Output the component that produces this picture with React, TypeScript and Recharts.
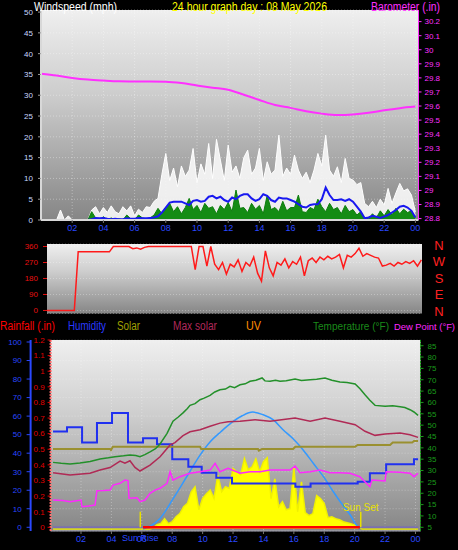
import React from 'react';
import { ComposedChart, Line, Area, XAxis, YAxis, CartesianGrid, ReferenceLine } from 'recharts';

const FONT = '"Liberation Sans", Arial, Helvetica, sans-serif';

// wind panel, 15 minute samples from 00:00 (mph)
const windGust = [
  0, 0, 0, 0, 0, 2.4, 0, 1.0, 0, 0, 0, 0, 0, 2.4, 3.2, 1.5,
  3.0, 1.8, 3.4, 2.0, 1.5, 3.2, 2.2, 3.4, 1.0, 2.6, 1.8, 3.2,
  3.0, 4.5, 5.2, 11.0, 16.0, 9.5, 12.5, 8.0, 13.0, 10.5, 12.0, 17.2,
  9.0, 13.5, 11.0, 18.4, 10.0, 19.4, 14.4, 9.5, 18.0, 11.5, 13.0, 10.0,
  15.0, 16.8, 11.0, 12.5, 17.2, 9.5, 14.0, 11.0, 12.0, 20.4, 10.5, 12.5,
  11.0, 15.6, 12.0, 10.0, 11.5, 9.0, 12.0, 16.0, 13.0, 20.4, 12.0, 10.5,
  12.8, 9.0, 14.8, 10.0, 9.6, 8.5, 9.0, 4.0, 3.2, 4.5, 3.0, 5.0,
  3.6, 7.6, 4.0, 6.5, 8.8, 7.0, 7.5, 6.0, 2.0,
];
const windSpeed = [
  0, 0, 0, 0, 0, 0, 0, 0, 0, 0, 0, 0, 0, 2.0, 0.5, 0,
  0.8, 0, 0.5, 0, 0.3, 0, 1.2, 0.3, 0, 1.2, 0.5, 0.3,
  0.5, 1.2, 2.8, 1.5, 3.0, 4.0, 2.0, 3.2, 1.5, 3.0, 5.2, 2.5,
  3.5, 1.8, 4.0, 2.8, 3.2, 1.5, 3.5, 2.5, 4.2, 2.0, 7.2, 2.8,
  3.0, 1.8, 4.0, 2.6, 3.5, 1.5, 6.0, 2.5, 3.0, 2.0, 4.5, 2.2,
  3.0, 3.0, 6.0, 2.0, 1.8, 3.0, 2.5, 5.0, 3.2, 2.0, 4.0, 2.5,
  3.0, 1.5, 3.5, 2.0, 2.5, 1.2, 2.0, 0.5, 0.3, 1.5, 0.5, 2.2,
  1.0, 2.5, 1.2, 2.8, 1.5, 2.6, 1.8, 2.2, 0.5,
];
const windAverage = [
  0, 0, 0, 0, 0, 0, 0, 0, 0, 0, 0, 0, 0, 0.2, 0.5, 0.4,
  0.5, 0.3, 0.2, 0.3, 0.2, 0.2, 0.4, 0.3, 0.3, 0.5, 0.4, 0.4,
  0.5, 0.6, 0.9, 1.8, 3.0, 4.2, 4.4, 4.4, 4.4, 4.0, 3.6, 4.6,
  4.8, 4.4, 4.6, 5.6, 5.8, 5.2, 5.6, 4.8, 4.4, 5.4, 5.0, 5.8,
  6.2, 6.2, 5.2, 4.6, 5.0, 6.2, 5.8, 4.8, 4.4, 5.4, 5.2, 5.2,
  4.8, 4.4, 3.8, 3.2, 3.0, 3.6, 3.8, 3.8, 5.0, 7.8, 6.0, 4.8,
  4.8, 5.0, 4.6, 5.0, 4.4, 3.2, 2.0, 0.4, 0.6, 1.0, 0.8, 0.5,
  0.8, 1.2, 1.8, 2.4, 3.2, 3.4, 3.0, 2.2, 0.6,
];
// barometer, hourly (in)
const barometer = [
  29.83, 29.817, 29.8, 29.788, 29.781, 29.776, 29.775, 29.775, 29.773, 29.763,
  29.746, 29.73, 29.716, 29.68, 29.643, 29.607, 29.587, 29.563, 29.546, 29.536,
  29.54, 29.552, 29.57, 29.585, 29.596,
];

// wind direction, 15 minute samples (degrees)
const windDirection = [
  0, 0, 0, 0, 0, 0, 0, 0, 330, 330, 330, 330, 330, 330, 330, 330,
  330, 360, 360, 360, 360, 360, 348, 352, 345, 355, 360, 360,
  360, 360, 360, 360, 360, 360, 360, 360, 360, 360, 230, 360,
  360, 250, 360, 260, 230, 270, 205, 260, 245, 285, 220, 270,
  250, 300, 210, 165, 335, 240, 195, 270, 255, 290, 240, 275,
  260, 300, 195, 280, 295, 270, 300, 285, 305, 290, 300, 315,
  240, 310, 300, 320, 350, 305, 320, 310, 300, 295, 250, 255,
  265, 250, 270, 260, 275, 265, 280, 250, 285,
];

// climate panel readings as [hour, value]
const temperature: [number, number][] = [
  [0.16, 33.6], [0.7, 33.2], [1.28, 32.9], [1.93, 33.3], [2.6, 34.0], [3.25, 35.1], [3.8, 35.6],
  [4.24, 36.1], [4.8, 36.5], [5.22, 36.9], [5.6, 36.6], [5.88, 36.1], [6.2, 37.0], [6.54, 38.2],
  [6.9, 39.6], [7.2, 41.7], [7.66, 46.4], [8.05, 51.7], [8.4, 53.6], [8.71, 55.4], [9.0, 57.3],
  [9.17, 58.7], [9.5, 59.5], [9.83, 61.2], [10.1, 61.9], [10.49, 63.1], [10.8, 64.6], [11.14, 65.6],
  [11.5, 65.9], [11.8, 67.1], [12.1, 66.5], [12.46, 67.8], [12.8, 68.2], [13.12, 69.3], [13.5, 69.8],
  [13.91, 70.8], [14.1, 69.5], [14.43, 69.3], [14.8, 69.8], [15.09, 69.3], [15.5, 69.6], [16.08, 70.3],
  [16.5, 69.7], [17.07, 70.0], [17.5, 70.2], [18.05, 70.8], [18.5, 69.8], [19.03, 69.0], [19.5, 68.8],
  [20.03, 68.1], [20.35, 66.0], [20.68, 63.4], [21.0, 61.0], [21.34, 58.7], [22.0, 58.3], [22.5, 58.5],
  [22.99, 58.1], [23.3, 57.8], [23.64, 56.8], [23.9, 55.8], [24.17, 54.3],
];
const dewPoint: [number, number][] = [
  [0.16, 17.0], [0.8, 16.8], [1.28, 16.3], [1.6, 16.6], [2.0, 17.0], [2.07, 14.1], [2.5, 14.4],
  [2.92, 14.8], [3.05, 21.1], [3.5, 21.2], [3.91, 21.4], [4.11, 23.6], [4.57, 24.4], [4.89, 25.8],
  [5.09, 25.6], [5.16, 17.8], [5.68, 18.0], [5.88, 16.3], [6.21, 17.0], [6.54, 20.0], [6.87, 21.4],
  [7.2, 22.2], [7.66, 24.4], [7.86, 29.5], [8.05, 25.8], [8.51, 27.3], [9.17, 28.8], [9.83, 29.5],
  [10.49, 30.2], [10.82, 33.2], [11.14, 29.5], [11.67, 31.0], [12.46, 28.8], [13.12, 29.5],
  [13.78, 29.5], [14.43, 30.2], [15.09, 30.2], [15.75, 30.2], [16.08, 32.0], [16.41, 29.0],
  [17.07, 29.5], [17.72, 30.2], [18.38, 29.0], [19.03, 29.0], [19.69, 28.8], [20.34, 27.3],
  [21.0, 22.9], [21.14, 25.8], [22.0, 25.4], [22.07, 29.5], [22.99, 29.2], [23.64, 28.8],
  [23.9, 27.3], [24.17, 28.8],
];
const humidity: [number, number][] = [
  [0.16, 51.7], [1.08, 54], [2.07, 45.7], [3.05, 56.3], [4.04, 61.7], [5.09, 45.7], [6.08, 48],
  [7.0, 44.8], [8.0, 36.7], [9.06, 32.7], [9.94, 29.5], [10.9, 26.8], [11.93, 23.7], [16.1, 21.9],
  [17.1, 23.7], [20.2, 24.6], [21.0, 29.1], [22.07, 34], [23.9, 36.7], [24.17, 36.7],
];
const maxSolar: [number, number][] = [
  [0.16, 42.3], [3.91, 42.3], [3.97, 41.7], [4.1, 43.5], [9.83, 43.5], [9.9, 42.3], [13.64, 42.3],
  [13.7, 41.4], [13.91, 42.3], [15.95, 42.3], [16.1, 43.5], [20.03, 43.5], [20.2, 44.4], [22.33, 44.4],
  [22.5, 45.7], [23.78, 45.7], [23.9, 46.6], [24.17, 46.6],
];
const feelsLike: [number, number][] = [
  [0.16, 29.05], [1.28, 28.0], [2.59, 28.8], [3.25, 30.2], [3.91, 31.3], [4.57, 34.2], [4.89, 33.2],
  [5.22, 34.3], [5.55, 31.4], [5.88, 29.8], [6.54, 32.4], [7.2, 36.1], [7.86, 41.3], [8.18, 42.3],
  [8.71, 45.4], [9.17, 47.1], [9.83, 48], [10.49, 49.5], [11.14, 50.9], [11.67, 51.5], [12.46, 51.7],
  [13.45, 52.4], [14.43, 51.7], [16.08, 53.1], [17.07, 51.7], [18.05, 53.1], [19.03, 51.7],
  [20.03, 50.2], [20.68, 47.3], [21.34, 45.5], [22.0, 46.1], [22.99, 46.5], [23.64, 45.8], [24.17, 44.6],
];
// clear sky solar curve and measured solar radiation (W/m2)
const clearSky: [number, number][] = [
  [6.08, 0], [6.6, 18], [7.2, 57], [8.07, 165], [8.95, 282], [9.83, 399], [10.5, 471], [11.2, 525],
  [11.9, 574], [12.6, 611], [13.3, 631], [13.97, 617], [14.63, 590], [15.29, 536], [15.95, 487],
  [16.6, 428], [17.3, 352], [18.03, 273], [18.6, 201], [19.13, 138], [19.7, 77], [20.11, 22], [20.34, 0],
];
const solar: [number, number][] = [
  [0.16, 0], [6.5, 0], [6.75, 5], [7, 23], [7.25, 30], [7.5, 56], [7.75, 29], [8, 39], [8.25, 66],
  [8.5, 83], [8.75, 120], [9, 138], [9.25, 201], [9.5, 228], [9.75, 104], [10, 165], [10.25, 190],
  [10.5, 210], [10.75, 165], [11, 291], [11.25, 201], [11.5, 228], [11.75, 219], [12, 327], [12.25, 309],
  [12.5, 293], [12.75, 381], [13, 320], [13.25, 336], [13.5, 379], [13.75, 309], [14, 363], [14.25, 385],
  [14.5, 164], [14.75, 271], [15, 120], [15.25, 147], [15.5, 104], [15.75, 110], [16, 331], [16.25, 93],
  [16.5, 255], [16.75, 88], [17, 72], [17.25, 83], [17.5, 180], [17.75, 164], [18, 137], [18.25, 61],
  [18.5, 66], [18.75, 56], [19, 50], [19.25, 39], [19.5, 34], [19.75, 29], [20, 21], [20.25, 7],
  [20.5, 0], [24.17, 0],
];
const rainfall: [number, number][] = [[0.16, 0], [24.17, 0]];
const uvIndex: [number, number][] = [[6.08, 0], [20.34, 0]];

const sunRise = 5.9;
const sunSet = 20.4;

const hourTicks = [2, 4, 6, 8, 10, 12, 14, 16, 18, 20, 22, 24];
const windTicks = [0, 5, 10, 15, 20, 25, 30, 35, 40, 45, 50];
const baroTicks = [28.8, 28.9, 29, 29.1, 29.2, 29.3, 29.4, 29.5, 29.6, 29.7, 29.8, 29.9, 30, 30.1, 30.2];
const dirTicks = [0, 90, 180, 270, 360];
const compass = ['N', 'W', 'S', 'E', 'N'];
const rainTicks = [0, 0.1, 0.2, 0.3, 0.4, 0.5, 0.6, 0.7, 0.8, 0.9, 1, 1.1, 1.2];
const humidityTicks = [0, 10, 20, 30, 40, 50, 60, 70, 80, 90, 100];
const tempTicks = [5, 10, 15, 20, 25, 30, 35, 40, 45, 50, 55, 60, 65, 70, 75, 80, 85];

const hourLabel = (h: number) => String(h % 24).padStart(2, '0');
const numLabel = (v: number) => String(Number(v.toFixed(2)));

const windRows = windGust.map((gust, i) => ({
  hour: i / 4,
  gust,
  speed: windSpeed[i],
  average: windAverage[i],
  baro: i % 4 === 0 ? barometer[i / 4] : null,
}));

const dirRows = windDirection.map((dir, i) => ({ hour: i / 4, dir }));

function mergeSeries(series: Record<string, [number, number][]>) {
  const rows = new Map<number, Record<string, number>>();
  Object.entries(series).forEach(([key, pts]) =>
    pts.forEach(([h, v]) => {
      const row = rows.get(h) ?? { hour: h };
      row[key] = v;
      rows.set(h, row);
    })
  );
  return [...rows.values()].sort((a, b) => a.hour - b.hour);
}

const climateRows = mergeSeries({
  temperature, dewPoint, humidity, maxSolar, feelsLike, clearSky, solar, rainfall, uvIndex,
});

const tick = (fill: string, size = 8) => ({ fill, fontSize: size, fontFamily: FONT });

function Gradient({ id }: { id: string }) {
  return (
    <defs>
      <linearGradient id={id} x1="0" y1="0" x2="0" y2="1">
        <stop offset="0%" stopColor="#efefef" />
        <stop offset="40%" stopColor="#cdcdcd" />
        <stop offset="100%" stopColor="#868686" />
      </linearGradient>
    </defs>
  );
}

function WindChart() {
  return (
    <ComposedChart width={458} height={240} data={windRows} margin={{ top: 10, right: 0, bottom: 0, left: 6 }}>
      <Gradient id="bgWind" />
      <CartesianGrid yAxisId="wind" fill="url(#bgWind)" stroke="#ffffff" strokeOpacity={0.35} strokeDasharray="1 2" />
      <XAxis
        dataKey="hour"
        type="number"
        domain={[0, 24.2]}
        ticks={hourTicks}
        interval={0}
        tickFormatter={hourLabel}
        height={20}
        tick={tick('#2a48ff', 9)}
        tickSize={3}
        tickLine={{ stroke: '#777' }}
        axisLine={{ stroke: '#d8d8d8', strokeWidth: 2 }}
      />
      <YAxis
        yAxisId="wind"
        domain={[0, 50.5]}
        ticks={windTicks}
        interval={0}
        width={35}
        tick={tick('#c8d8ff')}
        tickSize={3}
        tickMargin={5}
        tickLine={{ stroke: '#999' }}
        axisLine={{ stroke: '#d8d8d8', strokeWidth: 2 }}
      />
      <YAxis
        yAxisId="baro"
        orientation="right"
        domain={[28.79, 30.2825]}
        ticks={baroTicks}
        interval={0}
        tickFormatter={numLabel}
        width={39.5}
        tick={tick('#ff30ff')}
        tickSize={3}
        tickMargin={3}
        tickLine={{ stroke: '#ff30ff' }}
        axisLine={{ stroke: '#ff30ff' }}
      />
      <Area yAxisId="wind" dataKey="gust" type="linear" stroke="#ffffff" strokeWidth={1} fill="#f8f8f8" fillOpacity={0.9} baseValue={0} isAnimationActive={false} />
      <Area yAxisId="wind" dataKey="speed" type="linear" stroke="#0c7e0c" strokeWidth={1} fill="#148c14" fillOpacity={1} baseValue={0} isAnimationActive={false} />
      <Line yAxisId="wind" dataKey="average" type="linear" stroke="#1818f0" strokeWidth={2} dot={false} activeDot={false} isAnimationActive={false} />
      <Line yAxisId="baro" dataKey="baro" type="monotone" stroke="#ff30ff" strokeWidth={2} dot={false} activeDot={false} connectNulls isAnimationActive={false} />
    </ComposedChart>
  );
}

function DirectionChart() {
  return (
    <ComposedChart width={458} height={78} data={dirRows} margin={{ top: 4, right: 36, bottom: 4.5, left: 17 }}>
      <Gradient id="bgDir" />
      <CartesianGrid fill="url(#bgDir)" stroke="#ffffff" strokeOpacity={0.3} strokeDasharray="1 2" vertical={false} />
      <XAxis dataKey="hour" type="number" domain={[0, 24.04]} hide />
      <YAxis
        domain={[-17, 374]}
        ticks={dirTicks}
        interval={0}
        width={30}
        tick={tick('#e81010')}
        tickSize={4}
        tickMargin={5}
        tickLine={{ stroke: '#e81010' }}
        axisLine={false}
      />
      <Line dataKey="dir" type="linear" stroke="#ff1a1a" strokeWidth={1.5} dot={false} activeDot={false} isAnimationActive={false} />
    </ComposedChart>
  );
}

// left axes are stacked by id: "a-rain" sits next to the plot, "b-hum" outside it
function ClimateChart() {
  return (
    <ComposedChart width={458} height={220} data={climateRows} margin={{ top: 10, right: 0, bottom: 0, left: 10.6 }}>
      <Gradient id="bgClimate" />
      <CartesianGrid yAxisId="b-hum" fill="url(#bgClimate)" stroke="#ffffff" strokeOpacity={0.3} strokeDasharray="1 2" />
      <XAxis
        dataKey="hour"
        type="number"
        domain={[0, 24.33]}
        ticks={hourTicks}
        interval={0}
        tickFormatter={hourLabel}
        height={19}
        tick={tick('#2a48ff', 9)}
        tickSize={3}
        tickLine={{ stroke: '#777' }}
        axisLine={{ stroke: '#a0a0b0' }}
      />
      <YAxis
        yAxisId="a-rain"
        domain={[-0.0237, 1.2]}
        ticks={rainTicks}
        interval={0}
        tickFormatter={numLabel}
        width={20}
        tick={tick('#e00000')}
        tickSize={3}
        tickMargin={3}
        tickLine={{ stroke: '#e00000' }}
        axisLine={{ stroke: '#ff7070', strokeWidth: 2, strokeDasharray: '2 1' }}
      />
      <YAxis
        yAxisId="b-hum"
        domain={[-2, 101.08]}
        ticks={humidityTicks}
        interval={0}
        width={20}
        tick={tick('#2a48ff')}
        tickSize={4}
        tickMargin={5}
        tickLine={{ stroke: '#2a48ff' }}
        axisLine={{ stroke: '#2a48ff', strokeWidth: 2 }}
      />
      <YAxis
        yAxisId="temp"
        orientation="right"
        domain={[3.37, 87.51]}
        ticks={tempTicks}
        interval={0}
        width={37.5}
        tick={tick('#1a9a1a')}
        tickSize={3}
        tickMargin={4}
        tickLine={{ stroke: '#1a9a1a' }}
        axisLine={{ stroke: '#1a9a1a', strokeDasharray: '2 1' }}
      />
      <YAxis yAxisId="solar" domain={[-10.8, 1020]} hide />
      <Area yAxisId="solar" dataKey="solar" type="linear" stroke="#f0f000" strokeWidth={1.5} fill="#ffff00" fillOpacity={1} baseValue={0} connectNulls isAnimationActive={false} />
      <Line yAxisId="solar" dataKey="clearSky" type="monotone" stroke="#3399ff" strokeWidth={1.5} dot={false} activeDot={false} connectNulls isAnimationActive={false} />
      <Line yAxisId="b-hum" dataKey="humidity" type="stepAfter" stroke="#2030f0" strokeWidth={2} dot={false} activeDot={false} connectNulls isAnimationActive={false} />
      <Line yAxisId="b-hum" dataKey="maxSolar" type="linear" stroke="#9a9030" strokeWidth={2} dot={false} activeDot={false} connectNulls isAnimationActive={false} />
      <Line yAxisId="temp" dataKey="feelsLike" type="linear" stroke="#b02a55" strokeWidth={1.5} dot={false} activeDot={false} connectNulls isAnimationActive={false} />
      <Line yAxisId="temp" dataKey="temperature" type="linear" stroke="#23902a" strokeWidth={1.5} dot={false} activeDot={false} connectNulls isAnimationActive={false} />
      <Line yAxisId="temp" dataKey="dewPoint" type="linear" stroke="#ff28ff" strokeWidth={1.5} dot={false} activeDot={false} connectNulls isAnimationActive={false} />
      <Line yAxisId="a-rain" dataKey="rainfall" type="linear" stroke="#7a70b0" strokeWidth={2} dot={false} activeDot={false} connectNulls isAnimationActive={false} />
      <Line yAxisId="a-rain" dataKey="uvIndex" type="linear" stroke="#ff0000" strokeWidth={2.5} dot={false} activeDot={false} connectNulls isAnimationActive={false} />
      <ReferenceLine
        yAxisId="a-rain"
        segment={[{ x: sunRise, y: 0 }, { x: sunRise, y: 0.1 }]}
        stroke="#e8e000"
        strokeWidth={1.5}
        label={{ value: 'Sun Rise', position: 'bottom', offset: 7, fill: '#2a48ff', fontSize: 9, fontFamily: FONT }}
      />
      <ReferenceLine
        yAxisId="a-rain"
        segment={[{ x: sunSet, y: 0 }, { x: sunSet, y: 0.1 }]}
        stroke="#e8e000"
        strokeWidth={1.5}
        label={{ value: 'Sun Set', position: 'top', offset: 1, fill: '#e8e000', fontSize: 10, fontFamily: FONT }}
      />
    </ComposedChart>
  );
}

export default function App() {
  return (
    <div style={{ position: 'absolute', left: 0, top: 0, width: 458, height: 550, background: '#000', overflow: 'hidden', fontFamily: FONT }}>
      <div style={{ position: 'absolute', left: 0, top: 0 }}>
        <WindChart />
      </div>
      <div style={{ position: 'absolute', left: 0, top: 240 }}>
        <DirectionChart />
      </div>
      <div style={{ position: 'absolute', left: 0, top: 330 }}>
        <ClimateChart />
      </div>
      <svg width={458} height={550} style={{ position: 'absolute', left: 0, top: 0, pointerEvents: 'none' }}>
        <g fontFamily={FONT} fontSize={12}>
          <text x={34} y={10.5} fill="#ffffff" textLength={83} lengthAdjust="spacingAndGlyphs">Windspeed (mph)</text>
          <text x={172} y={10.5} fill="#ffff00" textLength={155} lengthAdjust="spacingAndGlyphs">24 hour graph day : 08 May 2026</text>
          <text x={371} y={10.5} fill="#ff30ff" textLength={69} lengthAdjust="spacingAndGlyphs">Barometer (.in)</text>
          {compass.map((c, i) => (
            <text key={i} x={439} y={249.5 + i * 16.5} fill="#ff2020" fontSize={13} textAnchor="middle">{c}</text>
          ))}
          <text x={0} y={329.5} fill="#ff0000" textLength={55} lengthAdjust="spacingAndGlyphs">Rainfall (.in)</text>
          <text x={68} y={329.5} fill="#2a3aff" textLength={38} lengthAdjust="spacingAndGlyphs">Humidity</text>
          <text x={117} y={329.5} fill="#a0a000" textLength={23} lengthAdjust="spacingAndGlyphs">Solar</text>
          <text x={173} y={329.5} fill="#b0285a" textLength={44} lengthAdjust="spacingAndGlyphs">Max solar</text>
          <text x={246} y={329.5} fill="#ff8c00" textLength={15} lengthAdjust="spacingAndGlyphs">UV</text>
          <text x={313} y={329.5} fill="#1a8a1a" fontSize={11} textLength={76} lengthAdjust="spacingAndGlyphs">Temperature (°F)</text>
          <text x={394} y={329.5} fill="#ff28ff" fontSize={9.5} textLength={61} lengthAdjust="spacingAndGlyphs">Dew Point (°F)</text>
        </g>
      </svg>
    </div>
  );
}
